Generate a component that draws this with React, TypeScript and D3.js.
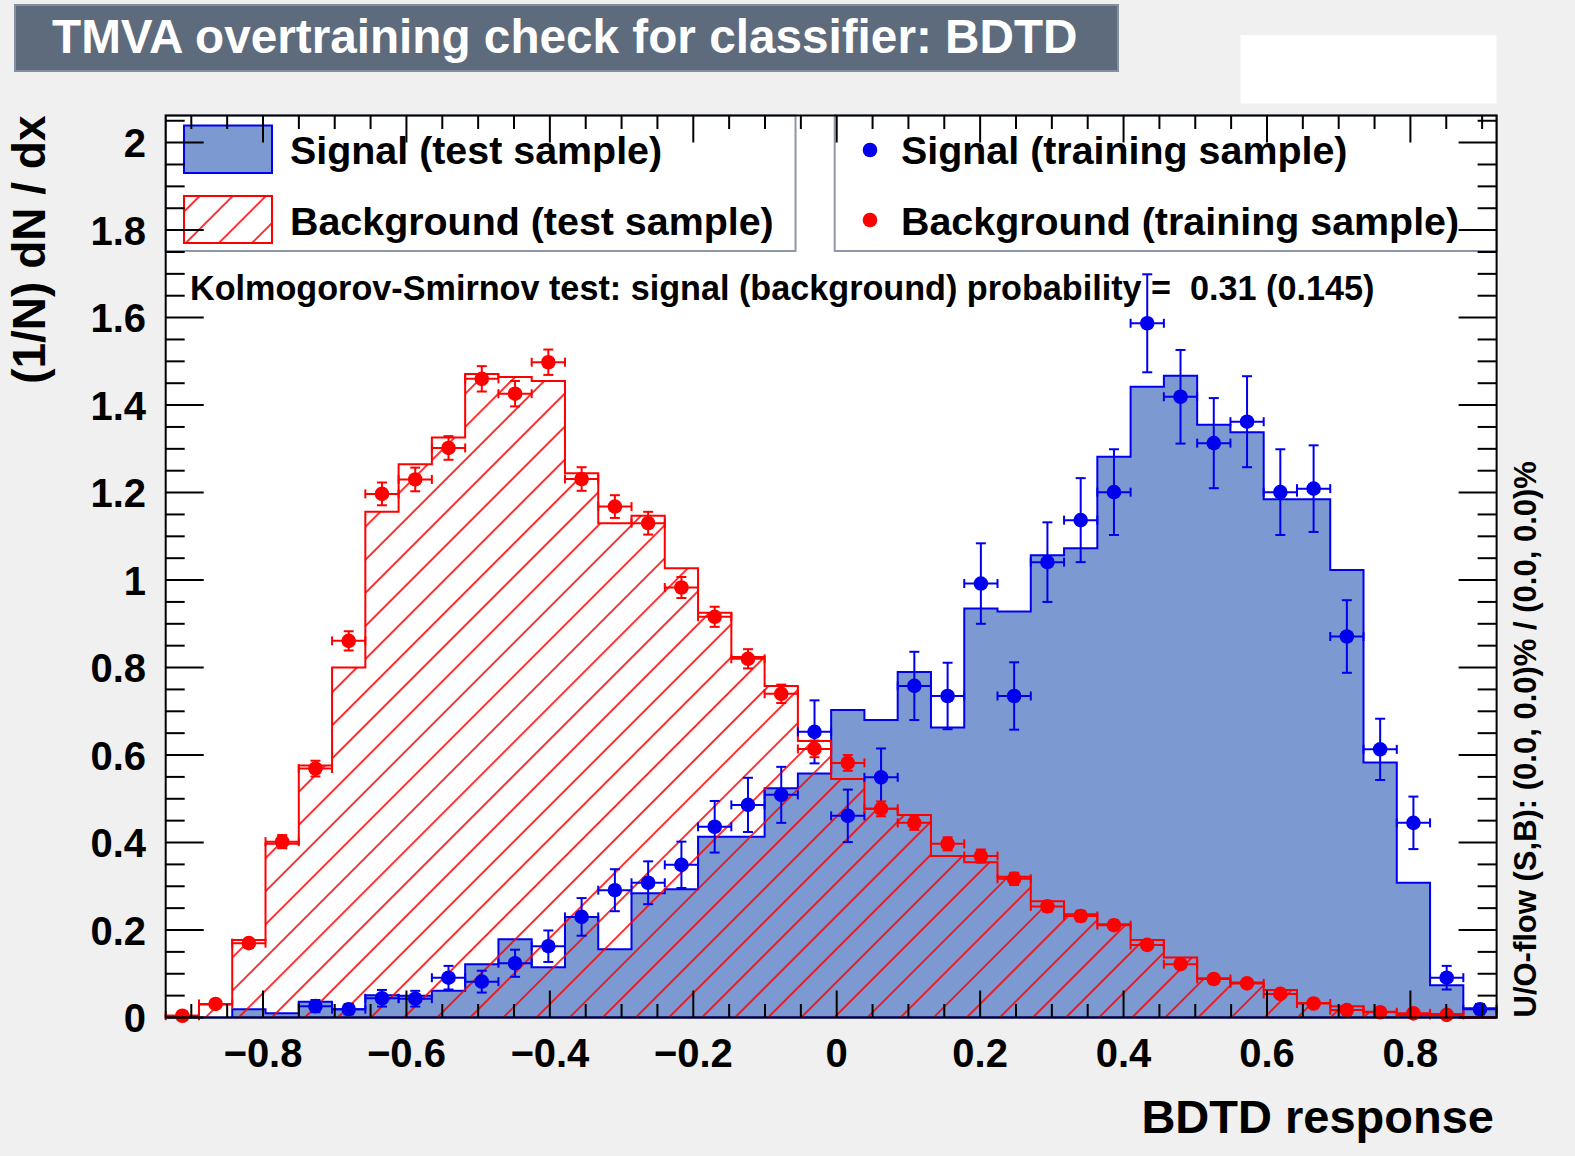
import React from 'react';
import * as d3 from 'd3';

// Axis definition
const xMin = -0.9357;
const xMax = 0.9202;
const nBins = 40;
const yMin = 0;
const yMax = 2.062;

const xTicks = [-0.8, -0.6, -0.4, -0.2, 0, 0.2, 0.4, 0.6, 0.8];
const xTickLabels = ['\u22120.8', '\u22120.6', '\u22120.4', '\u22120.2', '0', '0.2', '0.4', '0.6', '0.8'];
const yTicks = [0, 0.2, 0.4, 0.6, 0.8, 1, 1.2, 1.4, 1.6, 1.8, 2];
const yTickLabels = ['0', '0.2', '0.4', '0.6', '0.8', '1', '1.2', '1.4', '1.6', '1.8', '2'];

// Signal (test sample) histogram, 40 bins
const sigTest = [
  0, 0, 0.019, 0.010, 0.036, 0.019, 0.051, 0.050, 0.061, 0.122,
  0.179, 0.115, 0.230, 0.156, 0.284, 0.293, 0.413, 0.413, 0.524, 0.558,
  0.703, 0.680, 0.790, 0.663, 0.935, 0.928, 1.057, 1.073, 1.282, 1.442,
  1.467, 1.355, 1.338, 1.185, 1.185, 1.023, 0.583, 0.308, 0.074, 0.021,
];

// Background (test sample) histogram
const bkgTest = [
  0.004, 0.030, 0.177, 0.397, 0.576, 0.800, 1.156, 1.265, 1.326, 1.471,
  1.464, 1.455, 1.244, 1.130, 1.147, 1.027, 0.925, 0.824, 0.758, 0.632,
  0.545, 0.477, 0.463, 0.369, 0.355, 0.322, 0.266, 0.236, 0.213, 0.177,
  0.137, 0.090, 0.080, 0.063, 0.033, 0.026, 0.013, 0.006, 0.008, 0.0,
];

// Signal (training sample) points and errors
const sigTrain = [
  null, null, null, null, 0.026, 0.019, 0.044, 0.043, 0.091, 0.082,
  0.124, 0.163, 0.230, 0.291, 0.308, 0.349, 0.436, 0.486, 0.509, 0.653,
  0.461, 0.549, 0.758, 0.735, 0.992, 0.735, 1.041, 1.137, 1.201, 1.587,
  1.419, 1.313, 1.362, 1.201, 1.209, 0.871, 0.613, 0.445, 0.091, 0.019,
];
const sigTrainErr = [
  0, 0, 0, 0, 0.014, 0.012, 0.019, 0.018, 0.027, 0.025,
  0.031, 0.036, 0.043, 0.048, 0.049, 0.053, 0.059, 0.062, 0.064, 0.072,
  0.060, 0.066, 0.078, 0.076, 0.092, 0.077, 0.091, 0.096, 0.098, 0.112,
  0.107, 0.103, 0.104, 0.098, 0.099, 0.083, 0.070, 0.060, 0.027, 0.012,
];

// Background (training sample) points and errors
const bkgTrain = [
  0.004, 0.031, 0.170, 0.402, 0.569, 0.861, 1.197, 1.230, 1.302, 1.460,
  1.426, 1.498, 1.231, 1.168, 1.130, 0.983, 0.916, 0.820, 0.740, 0.614,
  0.582, 0.477, 0.445, 0.397, 0.369, 0.317, 0.254, 0.232, 0.211, 0.166,
  0.122, 0.088, 0.078, 0.054, 0.032, 0.017, 0.012, 0.0095, 0.006, null,
];
const bkgTrainErr = [
  0.002, 0.004, 0.010, 0.015, 0.018, 0.022, 0.026, 0.027, 0.027, 0.029,
  0.029, 0.029, 0.027, 0.026, 0.026, 0.024, 0.023, 0.022, 0.021, 0.019,
  0.018, 0.017, 0.016, 0.015, 0.015, 0.014, 0.012, 0.012, 0.011, 0.010,
  0.008, 0.007, 0.007, 0.006, 0.004, 0.003, 0.003, 0.002, 0.002, 0,
];

const titleText = 'TMVA overtraining check for classifier: BDTD';
const ksText = 'Kolmogorov-Smirnov test: signal (background) probability =  0.31 (0.145)';
const uoText = 'U/O-flow (S,B): (0.0, 0.0)% / (0.0, 0.0)%';
const xTitle = 'BDTD response';
const yTitle = '(1/N) dN / dx';
const legendLeft = ['Signal (test sample)', 'Background (test sample)'];
const legendRight = ['Signal (training sample)', 'Background (training sample)'];

const SIG_FILL = '#7d99d1';
const SIG_LINE = '#0000ee';
const BKG_LINE = '#ff0000';
const FONT = '"Liberation Sans", Arial, Helvetica, sans-serif';

export default function App() {
  const W = 1575;
  const H = 1156;
  const L = 165.7, R = 1496.6, T = 115.5, B = 1017.5;
  const x = d3.scaleLinear().domain([xMin, xMax]).range([L, R]);
  const y = d3.scaleLinear().domain([yMin, yMax]).range([B, T]);
  const bw = (xMax - xMin) / nBins;
  const edges = d3.range(nBins + 1).map((i) => xMin + i * bw);
  const centers = d3.range(nBins).map((i) => xMin + (i + 0.5) * bw);

  const stepPath = (vals: number[]) => {
    const pts: [number, number][] = [[x(edges[0]), y(0)]];
    vals.forEach((v, i) => {
      pts.push([x(edges[i]), y(v)]);
      pts.push([x(edges[i + 1]), y(v)]);
    });
    pts.push([x(edges[nBins]), y(0)]);
    return d3.line()(pts) as string;
  };

  const points = (vals: (number | null)[], errs: number[], color: string) =>
    vals.map((v, i) => {
      if (v == null) return null;
      const cx = x(centers[i]);
      const cy = y(v);
      const x0 = x(edges[i]);
      const x1 = x(edges[i + 1]);
      const yt = y(v + errs[i]);
      const yb = y(Math.max(0, v - errs[i]));
      return (
        <g key={i} stroke={color} strokeWidth={2}>
          <line x1={x0} x2={x1} y1={cy} y2={cy} />
          <line x1={x0} x2={x0} y1={cy - 4.5} y2={cy + 4.5} />
          <line x1={x1} x2={x1} y1={cy - 4.5} y2={cy + 4.5} />
          <line x1={cx} x2={cx} y1={yt} y2={yb} />
          <line x1={cx - 5} x2={cx + 5} y1={yt} y2={yt} />
          <line x1={cx - 5} x2={cx + 5} y1={yb} y2={yb} />
          <circle cx={cx} cy={cy} r={7.3} fill={color} stroke="none" />
        </g>
      );
    });

  const xMinor = d3.range(-18, 19).map((k) => ({ v: k * 0.05, major: k % 4 === 0 }))
    .filter((t) => t.v >= xMin && t.v <= xMax);
  const yMinor = d3.range(0, 42).map((k) => ({ v: k * 0.05, major: k % 4 === 0 }))
    .filter((t) => t.v <= yMax);

  const legBorder = '#8c97a8';

  return (
    <svg width={W} height={H} style={{ position: 'absolute', left: 0, top: 0, display: 'block' }}
      fontFamily={FONT} fontWeight="bold">
      <defs>
        <pattern id="hatch" patternUnits="userSpaceOnUse" width={23.4} height={20}
          patternTransform="rotate(45)">
          <line x1={22.4} y1={-2} x2={22.4} y2={22} stroke={BKG_LINE} strokeWidth={1.6} />
        </pattern>
      </defs>
      <rect x={0} y={0} width={W} height={H} fill="#f0f0f0" />

      {/* title box */}
      <rect x={15} y={5} width={1103} height={66} fill="#5d6b7d" stroke="#8390a2" strokeWidth={2} />
      <text x={52} y={53} fill="#ffffff" fontSize={47.7}>{titleText}</text>
      <rect x={1240.5} y={35} width={256} height={68.5} fill="#ffffff" />

      {/* frame */}
      <rect x={L} y={T} width={R - L} height={B - T} fill="#ffffff" />

      {/* legends */}
      <rect x={L} y={T} width={795.5 - L} height={251 - T} fill="#ffffff" stroke={legBorder} strokeWidth={2} />
      <rect x={834.7} y={T} width={R - 834.7} height={251 - T} fill="#ffffff" stroke={legBorder} strokeWidth={2} />
      <rect x={184} y={125.5} width={88} height={47.5} fill={SIG_FILL} stroke={SIG_LINE} strokeWidth={2} />
      <rect x={184} y={196} width={88} height={47} fill="url(#hatch)" stroke={BKG_LINE} strokeWidth={2} />
      <text x={290} y={164} fontSize={39.4} fill="#000">{legendLeft[0]}</text>
      <text x={290} y={235} fontSize={39.4} fill="#000">{legendLeft[1]}</text>
      <circle cx={870} cy={150} r={7.3} fill={SIG_LINE} />
      <circle cx={870} cy={220} r={7.3} fill={BKG_LINE} />
      <text x={901} y={164} fontSize={39.4} fill="#000">{legendRight[0]}</text>
      <text x={901} y={235} fontSize={39.4} fill="#000">{legendRight[1]}</text>

      {/* KS text */}
      <text x={190} y={300} fontSize={34.2} fill="#000" style={{ whiteSpace: 'pre' }}>{ksText}</text>

      {/* histograms */}
      <path d={stepPath(sigTest) + 'Z'} fill={SIG_FILL} stroke={SIG_LINE} strokeWidth={2} />
      <path d={stepPath(bkgTest) + 'Z'} fill="url(#hatch)" stroke="none" />
      <path d={stepPath(bkgTest)} fill="none" stroke={BKG_LINE} strokeWidth={2} />

      {/* training points */}
      {points(sigTrain, sigTrainErr, SIG_LINE)}
      {points(bkgTrain, bkgTrainErr, BKG_LINE)}

      {/* axes ticks */}
      <g stroke="#000" strokeWidth={2}>
        {xMinor.map((t, i) => {
          const len = t.major ? 27 : 13.5;
          const xx = x(t.v);
          return (
            <g key={'x' + i}>
              <line x1={xx} x2={xx} y1={B} y2={B - len} />
              <line x1={xx} x2={xx} y1={T} y2={T + len} />
            </g>
          );
        })}
        {yMinor.map((t, i) => {
          const len = t.major ? 38 : 19;
          const yy = y(t.v);
          return (
            <g key={'y' + i}>
              <line x1={L} x2={L + len} y1={yy} y2={yy} />
              <line x1={R} x2={R - len} y1={yy} y2={yy} />
            </g>
          );
        })}
      </g>
      <rect x={L} y={T} width={R - L} height={B - T} fill="none" stroke="#000" strokeWidth={2} />

      {/* tick labels */}
      {xTicks.map((v, i) => (
        <text key={'xl' + i} x={x(v)} y={1067} fontSize={40} textAnchor="middle" fill="#000">{xTickLabels[i]}</text>
      ))}
      {yTicks.map((v, i) => (
        <text key={'yl' + i} x={146} y={y(v) + 14.5} fontSize={40} textAnchor="end" fill="#000">{yTickLabels[i]}</text>
      ))}

      {/* axis titles */}
      <text x={1494} y={1133} fontSize={47} textAnchor="end" fill="#000">{xTitle}</text>
      <text transform={`translate(45,${T}) rotate(-90)`} fontSize={46} textAnchor="end" fill="#000">{yTitle}</text>
      <text transform={`translate(1536,${B}) rotate(-90)`} fontSize={31} textAnchor="start" fill="#000">{uoText}</text>
    </svg>
  );
}
